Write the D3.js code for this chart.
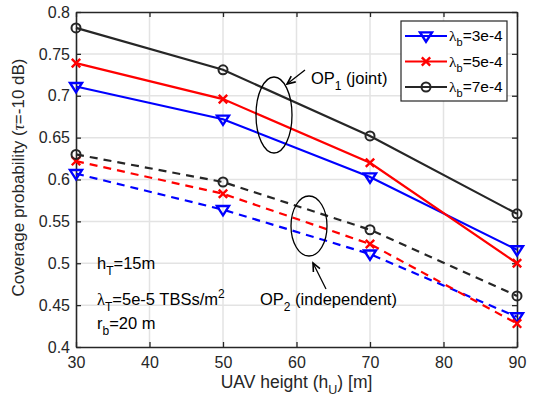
<!DOCTYPE html>
<html>
<head>
<meta charset="utf-8">
<script src="https://cdn.jsdelivr.net/npm/d3@7"></script>
<style>
  body { margin: 0; background: #fff; }
  svg { display: block; font-family: "Liberation Sans", Arial, Helvetica, sans-serif; }
</style>
</head>
<body>
<svg id="chart" width="543" height="404"></svg>
<script>
// UAV heights (m)
const heights = [30, 50, 70, 90];

// Joint coverage probability OP1
const op1Blue  = [0.711, 0.672, 0.603, 0.516];
const op1Red   = [0.739, 0.696, 0.620, 0.500];
const op1Black = [0.781, 0.731, 0.652, 0.559];

// Independent coverage probability OP2
const op2Blue  = [0.607, 0.564, 0.511, 0.436];
const op2Red   = [0.622, 0.583, 0.523, 0.428];
const op2Black = [0.630, 0.597, 0.540, 0.461];

const xTicks = [30, 40, 50, 60, 70, 80, 90];
const yTicks = [0.4, 0.45, 0.5, 0.55, 0.6, 0.65, 0.7, 0.75, 0.8];
const legendLabels = ["3e-4", "5e-4", "7e-4"];

const svg = d3.select("#chart");
const margin = {left: 76, right: 26, top: 12, bottom: 57};
const W = 543, H = 404;
const x = d3.scaleLinear().domain([30, 90]).range([margin.left, W - margin.right]);
const y = d3.scaleLinear().domain([0.4, 0.8]).range([H - margin.bottom, margin.top]);

const axisColor = "#262626";

// grid
const grid = svg.append("g");
grid.selectAll("line.gx").data(xTicks.slice(1, -1)).join("line")
  .attr("x1", d => x(d)).attr("x2", d => x(d))
  .attr("y1", y(0.4)).attr("y2", y(0.8))
  .attr("stroke", "#e3e3e3").attr("stroke-width", 1.5);
grid.selectAll("line.gy").data(yTicks.slice(1, -1)).join("line")
  .attr("y1", d => y(d)).attr("y2", d => y(d))
  .attr("x1", x(30)).attr("x2", x(90))
  .attr("stroke", "#e3e3e3").attr("stroke-width", 1.5);

// axes (ticks pointing inward, box on)
const tickLen = 5;
const axB = svg.append("g").attr("transform", `translate(0,${y(0.4)})`)
  .call(d3.axisBottom(x).tickValues(xTicks).tickSizeInner(-tickLen).tickSizeOuter(0).tickPadding(10).tickFormat(d3.format("d")));
const axT = svg.append("g").attr("transform", `translate(0,${y(0.8)})`)
  .call(d3.axisTop(x).tickValues(xTicks).tickSizeInner(-tickLen).tickSizeOuter(0).tickFormat(""));
const axL = svg.append("g").attr("transform", `translate(${x(30)},0)`)
  .call(d3.axisLeft(y).tickValues(yTicks).tickSizeInner(-tickLen).tickSizeOuter(0).tickPadding(6).tickFormat(d => d3.format("")(+d.toFixed(2))));
const axR = svg.append("g").attr("transform", `translate(${x(90)},0)`)
  .call(d3.axisRight(y).tickValues(yTicks).tickSizeInner(-tickLen).tickSizeOuter(0).tickFormat(""));
[axB, axT, axL, axR].forEach(a => {
  a.select(".domain").attr("stroke", axisColor).attr("stroke-width", 1.6);
  a.selectAll(".tick line").attr("stroke", axisColor).attr("stroke-width", 1.3);
  a.selectAll(".tick text").attr("fill", axisColor).style("font-size", "16px")
   .style("font-family", "'Liberation Sans', Arial, sans-serif");
});

// axis labels
svg.append("text").attr("x", (x(30) + x(90)) / 2).attr("y", 388)
  .attr("text-anchor", "middle").attr("fill", axisColor).style("font-size", "17.5px")
  .call(t => { t.append("tspan").text("UAV height (h");
               t.append("tspan").attr("dy", 6).style("font-size", "12.5px").text("U");
               t.append("tspan").attr("dy", -6).text(") [m]"); });
svg.append("text").attr("transform", `translate(24,${(y(0.4) + y(0.8)) / 2 - 2}) rotate(-90)`)
  .attr("text-anchor", "middle").attr("fill", axisColor).style("font-size", "17px")
  .call(t => { t.append("tspan").text("Coverage probability (");
               t.append("tspan").style("font-style", "italic").style("font-family", "'Liberation Serif', serif").text("τ");
               t.append("tspan").text("=-10 dB)"); });

// series
const series = [
  {vals: op1Blue,  color: "#0000ff", marker: "tri", dash: null},
  {vals: op1Red,   color: "#ff0000", marker: "x",   dash: null},
  {vals: op1Black, color: "#262626", marker: "o",   dash: null},
  {vals: op2Blue,  color: "#0000ff", marker: "tri", dash: "8,6"},
  {vals: op2Red,   color: "#ff0000", marker: "x",   dash: "8,6"},
  {vals: op2Black, color: "#262626", marker: "o",   dash: "8,6"}
];
const line = d3.line().x((d, i) => x(heights[i])).y(d => y(d));

function drawMarker(g, type, cx, cy, color) {
  if (type === "tri") {
    const s = 6;
    g.append("path").attr("d", `M${cx - s},${cy - s * 0.6} L${cx + s},${cy - s * 0.6} L${cx},${cy + s * 0.95} Z`)
      .attr("fill", "none").attr("stroke", color).attr("stroke-width", 2.4).attr("stroke-linejoin", "miter");
  } else if (type === "x") {
    const s = 4.2;
    g.append("path").attr("d", `M${cx - s},${cy - s} L${cx + s},${cy + s} M${cx - s},${cy + s} L${cx + s},${cy - s}`)
      .attr("stroke", color).attr("stroke-width", 2.4);
  } else {
    g.append("circle").attr("cx", cx).attr("cy", cy).attr("r", 4.5)
      .attr("fill", "none").attr("stroke", color).attr("stroke-width", 2);
  }
}

const plot = svg.append("g");
series.forEach(s => {
  plot.append("path").datum(s.vals).attr("d", line)
    .attr("fill", "none").attr("stroke", s.color).attr("stroke-width", 2.2)
    .attr("stroke-dasharray", s.dash);
});
series.forEach(s => {
  s.vals.forEach((v, i) => drawMarker(plot, s.marker, x(heights[i]), y(v), s.color));
});

// legend
const lg = svg.append("g");
lg.append("rect").attr("x", 401).attr("y", 21).attr("width", 106).attr("height", 80)
  .attr("fill", "#fff").attr("stroke", axisColor).attr("stroke-width", 1.2);
series.slice(0, 3).forEach((s, i) => {
  const yy = 36 + i * 25.5;
  lg.append("line").attr("x1", 405).attr("x2", 447).attr("y1", yy).attr("y2", yy)
    .attr("stroke", s.color).attr("stroke-width", 2.2);
  drawMarker(lg, s.marker, 426, yy, s.color);
  const t = lg.append("text").attr("x", 449).attr("y", yy + 5).attr("fill", "#000").style("font-size", "15.5px");
  t.append("tspan").style("font-family", "'Liberation Serif', serif").text("λ");
  t.append("tspan").attr("dy", 5).style("font-size", "11px").text("b");
  t.append("tspan").attr("dy", -5).text("=" + legendLabels[i]);
});

// annotations
const ann = svg.append("g").attr("stroke", "#000").attr("fill", "none").attr("stroke-width", 1.3);
ann.append("ellipse").attr("cx", 274).attr("cy", 115).attr("rx", 18).attr("ry", 38);
ann.append("ellipse").attr("cx", 309).attr("cy", 226).attr("rx", 18).attr("ry", 30);
function arrow(x1, y1, x2, y2) {
  ann.append("line").attr("x1", x1).attr("y1", y1).attr("x2", x2).attr("y2", y2);
  const a = Math.atan2(y2 - y1, x2 - x1), L = 9, w = 0.42;
  const p1 = [x2 - L * Math.cos(a - w), y2 - L * Math.sin(a - w)];
  const p2 = [x2 - L * Math.cos(a + w), y2 - L * Math.sin(a + w)];
  ann.append("path").attr("d", `M${p1} L${x2},${y2} L${p2}`).attr("stroke-width", 1.6);
}
arrow(305, 70, 287, 84);
arrow(326, 289, 313, 263);

function subText(xp, yp, parts) {
  const t = svg.append("text").attr("x", xp).attr("y", yp).attr("fill", "#000").style("font-size", "16.5px");
  parts.forEach(p => {
    const ts = t.append("tspan").text(p.t);
    if (p.dy) ts.attr("dy", p.dy);
    if (p.sub) ts.style("font-size", "12px");
    if (p.sup) ts.style("font-size", "12px");
    if (p.serif) ts.style("font-family", "'Liberation Serif', serif");
  });
}
subText(311, 84, [{t: "OP"}, {t: "1", dy: 6, sub: true}, {t: " (joint)", dy: -6}]);
subText(260, 305, [{t: "OP"}, {t: "2", dy: 6, sub: true}, {t: " (independent)", dy: -6}]);
subText(97, 269, [{t: "h"}, {t: "T", dy: 6, sub: true}, {t: "=15m", dy: -6}]);
subText(97, 305, [{t: "λ", serif: true}, {t: "T", dy: 6, sub: true}, {t: "=5e-5 TBSs/m", dy: -6}, {t: "2", dy: -7, sup: true}]);
subText(97, 329, [{t: "r"}, {t: "b", dy: 6, sub: true}, {t: "=20 m", dy: -6}]);
</script>
</body>
</html>
